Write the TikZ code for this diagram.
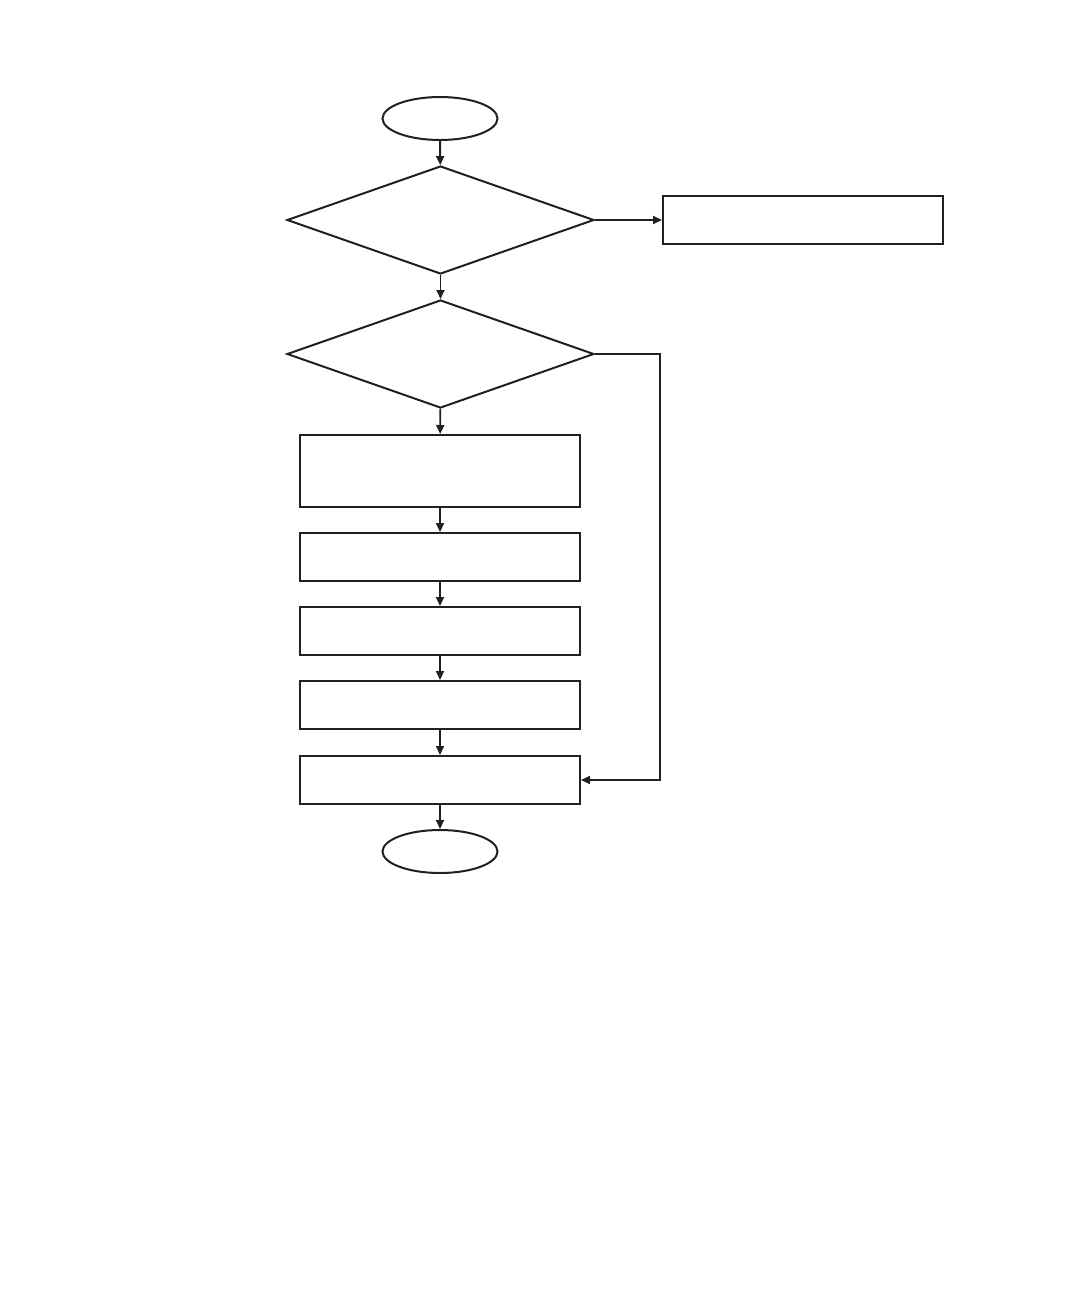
\documentclass[tikz,border=0pt]{standalone}
\usetikzlibrary{shapes.geometric,arrows.meta}
\definecolor{ink}{HTML}{231F20}
\begin{document}
\begin{tikzpicture}[x=1pt,y=-1pt,
  conn/.style={draw=ink,line width=1.9pt,-{Triangle[length=9pt,width=8pt]}},
  term/.style={ellipse,draw=ink,line width=2pt,minimum width=115pt,minimum height=43pt,inner sep=0pt},
  decide/.style={diamond,draw=ink,line width=2pt,minimum width=307pt,minimum height=108pt,inner sep=0pt},
  proc/.style={rectangle,draw=ink,line width=2pt,minimum width=280pt,minimum height=48pt,inner sep=0pt}]
\useasboundingbox (0,0) rectangle (1080,1296);
\node[term] (start) at (440,118.5) {};
\node[decide] (d1) at (440.5,220) {};
\node[proc] (side) at (803,220) {};
\node[decide] (d2) at (440.5,354) {};
\node[proc,minimum height=72pt] (p1) at (440,471) {};
\node[proc] (p2) at (440,557) {};
\node[proc] (p3) at (440,631) {};
\node[proc] (p4) at (440,705) {};
\node[proc] (p5) at (440,780) {};
\node[term] (end) at (440,851.5) {};
\draw[conn] (start) -- (d1);
\draw[conn] (d1.east) -- (side.west);
\draw[conn] (d1) -- (d2);
\draw[conn] (d2) -- (p1);
\draw[conn] (p1) -- (p2);
\draw[conn] (p2) -- (p3);
\draw[conn] (p3) -- (p4);
\draw[conn] (p4) -- (p5);
\draw[conn] (p5) -- (end);
\coordinate (loopx) at (660,354);
\draw[conn] (d2.east) -- (loopx) |- (p5.east);
\end{tikzpicture}
\end{document}
